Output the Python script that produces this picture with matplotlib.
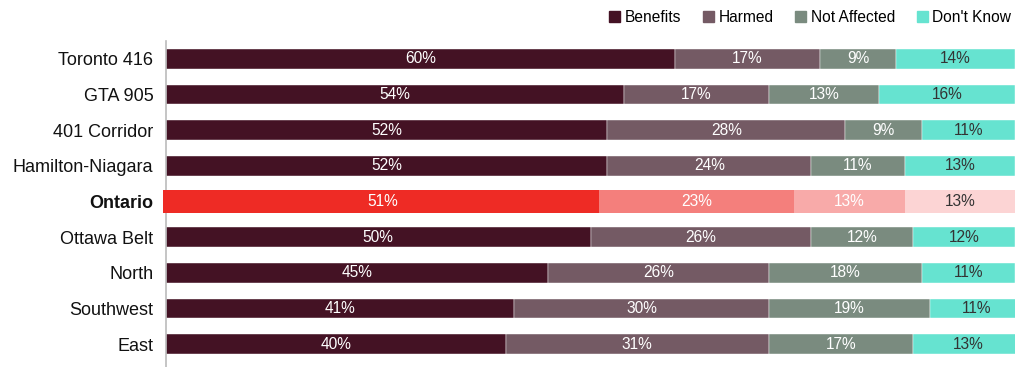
import matplotlib.pyplot as plt
from matplotlib.patches import Patch
import numpy as np

plt.rcParams['font.family'] = ['Liberation Sans', 'DejaVu Sans']

regions = ["Toronto 416", "GTA 905", "401 Corridor", "Hamilton-Niagara", "Ontario",
           "Ottawa Belt", "North", "Southwest", "East"]
benefits = [60, 54, 52, 52, 51, 50, 45, 41, 40]
harmed = [17, 17, 28, 24, 23, 26, 26, 30, 31]
not_affected = [9, 13, 9, 11, 13, 12, 18, 19, 17]
dont_know = [14, 16, 11, 13, 13, 12, 11, 11, 13]
series_names = ["Benefits", "Harmed", "Not Affected", "Don't Know"]

colors = ["#441224", "#745a64", "#7a8b7f", "#66e3d0"]
total_colors = ["#ee2b25", "#f47f7c", "#f8aaa9", "#fcd4d4"]
text_colors = ["white", "white", "white", "#333333"]
total_text = ["white", "white", "white", "#333333"]

fig = plt.figure(figsize=(10.16, 3.67), dpi=100)
ax = fig.add_axes([166 / 1016, 0, 849 / 1016, 326 / 367])

data = np.array([benefits, harmed, not_affected, dont_know])
y = np.arange(len(regions))

for i, name in enumerate(regions):
    left = 0
    is_total = name == "Ontario"
    for s in range(4):
        v = data[s, i]
        if is_total:
            # province total: a bit taller and drawn over the axis line
            start = -0.3 if s == 0 else left
            ax.barh(i, v + (left - start), left=start, height=0.62,
                    color=total_colors[s], linewidth=0, clip_on=False, zorder=3)
            tc = total_text[s]
        else:
            ax.barh(i, v, left=left, height=0.56, color=colors[s],
                    edgecolor="white", linewidth=0.3)
            tc = text_colors[s]
        ax.text(left + v / 2, i, f"{v}%", ha="center", va="center",
                fontsize=11.2, color=tc, zorder=4)
        left += v

ax.set_xlim(0, 100)
ax.set_ylim(8.64, -0.5)
ax.set_yticks(y)
ax.set_yticklabels(regions, fontsize=13)
for lbl in ax.get_yticklabels():
    if lbl.get_text() == "Ontario":
        lbl.set_fontweight("bold")
ax.tick_params(axis="y", length=0, pad=9, colors="#111111")
ax.set_xticks([])
for side in ["top", "right", "bottom"]:
    ax.spines[side].set_visible(False)
ax.spines["left"].set_color("#bbbbbb")
ax.spines["left"].set_linewidth(1.2)

handles = [Patch(color=c, label=n) for c, n in zip(colors, series_names)]
fig.legend(handles=handles, loc="upper right", bbox_to_anchor=(1.0, 0.985),
           ncol=4, frameon=False, fontsize=11.2, handlelength=0.7,
           handleheight=0.7, handletextpad=0.3, columnspacing=1.4,
           borderaxespad=0.1, borderpad=0.2)

fig.savefig("out.png", dpi=100)
